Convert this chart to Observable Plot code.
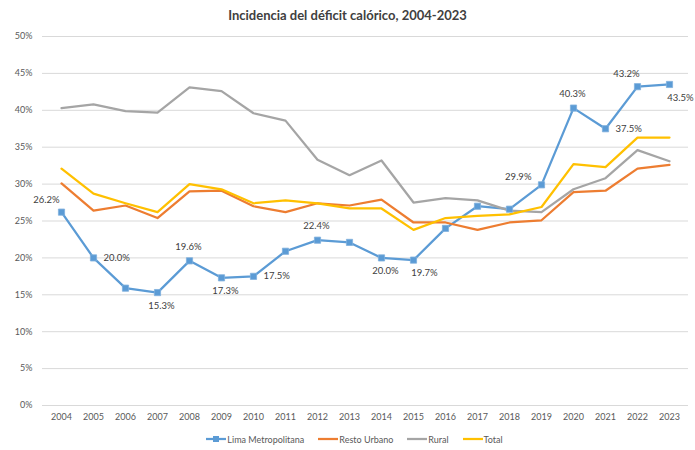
<!DOCTYPE html>
<html><head><meta charset="utf-8">
<script src="https://cdn.jsdelivr.net/npm/d3@7"></script>
<script src="https://cdn.jsdelivr.net/npm/@observablehq/plot@0.6"></script>
<style>
body{margin:0;background:#fff;font-family:Lato,"Open Sans",sans-serif;width:695px;height:450px;overflow:hidden;}
#title{height:28px;line-height:31px;text-align:center;font-size:13px;color:#404040;font-weight:bold;}
#chart svg{display:block;}
#legend{height:22px;display:flex;justify-content:center;align-items:center;font-size:9px;color:#595959;gap:14px;padding-left:14px;box-sizing:border-box;}
#legend .item{display:flex;align-items:center;gap:1px;}
</style></head>
<body>
<div id="title">Incidencia del déficit calórico, 2004-2023</div>
<div id="chart"></div>
<div id="legend"></div>
<script>
const years = [2004,2005,2006,2007,2008,2009,2010,2011,2012,2013,2014,2015,2016,2017,2018,2019,2020,2021,2022,2023];
const seriesNames = ["Lima Metropolitana","Resto Urbano","Rural","Total"];
const seriesColors = ["#5B9BD5","#ED7D31","#A5A5A5","#FFC000"];
const lima  = [26.2,20.0,15.9,15.3,19.6,17.3,17.5,20.9,22.4,22.1,20.0,19.7,24.0,27.0,26.6,29.9,40.3,37.5,43.2,43.5];
const resto = [30.1,26.4,27.1,25.4,29.0,29.1,27.0,26.2,27.4,27.1,27.9,24.8,24.8,23.8,24.8,25.1,28.9,29.1,32.1,32.6];
const rural = [40.3,40.8,39.9,39.7,43.1,42.6,39.6,38.6,33.3,31.2,33.2,27.5,28.1,27.8,26.4,26.2,29.3,30.8,34.6,33.1];
const total = [32.1,28.7,27.4,26.2,30.0,29.3,27.4,27.8,27.4,26.7,26.7,23.8,25.4,25.7,25.9,26.9,32.7,32.3,36.3,36.3];
const yTicks = [0,5,10,15,20,25,30,35,40,45,50];
const labelYears = [2004,2005,2007,2008,2009,2010,2012,2014,2015,2019,2020,2021,2022,2023];
const labelSides = ["upleft","right","below","above","below","right","above","below","belowright","left","above","right","aboveleft","belowright"];

const seriesValues = [lima, resto, rural, total];
const rows = [];
seriesNames.forEach((s, i) => years.forEach((y, j) => rows.push({year: y, series: s, value: seriesValues[i][j]})));
const limaRows = rows.filter(d => d.series === "Lima Metropolitana");
const labelRows = labelYears.map((y, i) => ({year: y, value: lima[years.indexOf(y)], side: labelSides[i]}));

const place = {
  upleft: {dx: -15, dy: -12, anchor: "middle"},
  right: {dx: 10, dy: 0, anchor: "start"},
  below: {dx: 4, dy: 13, anchor: "middle"},
  above: {dx: -1, dy: -14, anchor: "middle"},
  belowright: {dx: 11, dy: 13, anchor: "middle"},
  left: {dx: -10, dy: -8, anchor: "end"},
  aboveleft: {dx: -11, dy: -13, anchor: "middle"}
};
const labelMarks = Object.entries(place).map(([k, p]) =>
  Plot.text(labelRows.filter(d => d.side === k), {
    x: "year", y: "value", text: d => d.value.toFixed(1) + "%",
    dx: p.dx, dy: p.dy, textAnchor: p.anchor, fill: "#404040", fontSize: 9.5
  }));

const chart = Plot.plot({
  width: 695, height: 400,
  marginTop: 8, marginBottom: 23, marginLeft: 42, marginRight: 7,
  style: {fontFamily: "Lato, 'Open Sans', sans-serif", fontSize: "9px", color: "#595959", background: "#fff"},
  x: {type: "point", domain: years, label: null},
  y: {domain: [0, 50], label: null},
  color: {domain: seriesNames, range: seriesColors},
  marks: [
    Plot.ruleY(yTicks, {stroke: "#d9d9d9", strokeWidth: 1}),
    Plot.axisY({ticks: yTicks, tickSize: 0, tickPadding: 10, tickFormat: d => d + "%", fill: "#595959"}),
    Plot.axisX({tickSize: 0, tickPadding: 8, tickFormat: d => `${d}`, fill: "#595959"}),
    Plot.line(rows, {x: "year", y: "value", z: "series", stroke: "series", strokeWidth: 2.25, curve: "linear"}),
    Plot.dot(limaRows, {x: "year", y: "value", symbol: "square", r: 3.5, fill: "#5B9BD5", stroke: "#7fb0dd", strokeWidth: 0.8}),
    ...labelMarks
  ]
});
document.getElementById("chart").appendChild(chart);

const legend = document.getElementById("legend");
seriesNames.forEach((s, i) => {
  const item = document.createElement("div");
  item.className = "item";
  const marker = i === 0 ? `<rect x="7" y="2" width="6" height="6" fill="${seriesColors[i]}"/>` : "";
  item.innerHTML = `<svg width="20" height="10"><line x1="0" x2="20" y1="5" y2="5" stroke="${seriesColors[i]}" stroke-width="2.25"/>${marker}</svg><span>${s}</span>`;
  legend.appendChild(item);
});
</script>
</body></html>
